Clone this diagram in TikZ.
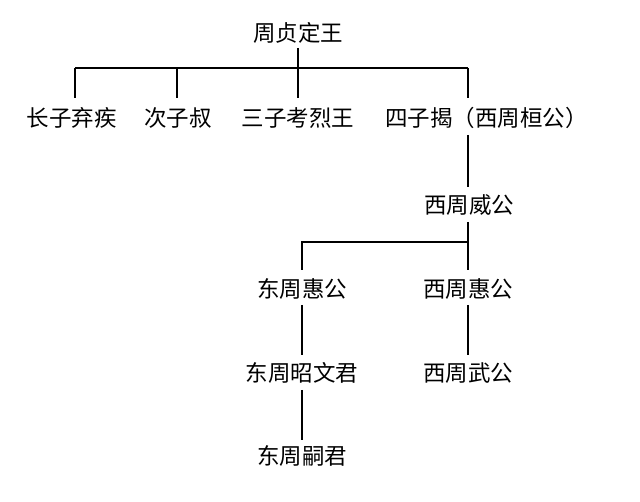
\documentclass[tikz,border=0pt]{standalone}
\usepackage{fontspec}
\newfontfamily\cjk{Noto Sans CJK SC}
\tikzset{nm/.style={font=\cjk\fontsize{22.5}{24}\selectfont, inner sep=0pt}, ln/.style={line width=1.6pt}}
\begin{document}
\begin{tikzpicture}[x=1pt,y=-1pt]
\useasboundingbox[fill=white] (0,0) rectangle (640,502);
\node[nm] (king) at (298,33) {周贞定王};
\node[nm] (c1) at (72,118) {长子弃疾};
\node[nm] (c2) at (178,118) {次子叔};
\node[nm] (c3) at (298,118) {三子考烈王};
\node[nm,anchor=west] (c4) at (385,118) {四子揭（西周桓公）};
\node[nm] (wwei) at (469,205) {西周威公};
\node[nm] (ehui) at (302,289) {东周惠公};
\node[nm] (whui) at (468,289) {西周惠公};
\node[nm] (ezhao) at (302,373) {东周昭文君};
\node[nm] (wwu) at (468,373) {西周武公};
\node[nm] (esi) at (302,456) {东周嗣君};
\coordinate (h1) at (298,68);
\draw[ln] (298,48) -- (h1);
\draw[ln] (75,68) -- (468,68);
\draw[ln] (75,68) -- (75,98);
\draw[ln] (177,68) -- (177,98);
\draw[ln] (298,68) -- (298,98);
\draw[ln] (468,68) -- (468,98);
\draw[ln] (468,135) -- (468,187);
\draw[ln] (468,222) -- (468,242) -- (302,242) -- (302,270);
\draw[ln] (468,242) -- (468,270);
\draw[ln] (302,305) -- (302,355);
\draw[ln] (468,305) -- (468,355);
\draw[ln] (302,390) -- (302,440);
\end{tikzpicture}
\end{document}
